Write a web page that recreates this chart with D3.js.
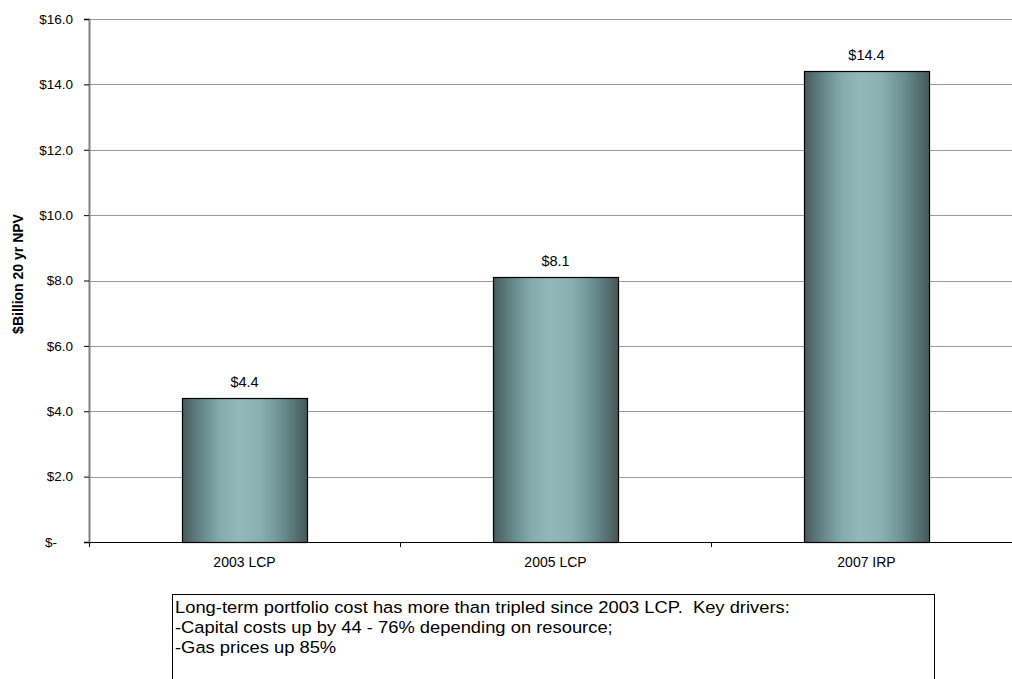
<!DOCTYPE html>
<html><head><meta charset="utf-8">
<script src="https://cdn.jsdelivr.net/npm/d3@7"></script>
<style>body{margin:0;background:#fff;overflow:hidden}svg{display:block;font-family:"Liberation Sans",Arial,sans-serif}</style>
</head><body>
<svg id="c" width="1012" height="679"></svg>
<script>
const categories = ["2003 LCP", "2005 LCP", "2007 IRP"];
const values = [4.4, 8.1, 14.4];
const yTicks = [0, 2, 4, 6, 8, 10, 12, 14, 16];
const yTitle = "$Billion 20 yr NPV";
const noteLines = [
  "Long-term portfolio cost has more than tripled since 2003 LCP.  Key drivers:",
  "-Capital costs up by 44 - 76% depending on resource;",
  "-Gas prices up 85%"
];

(function () {
const svg = d3.select("#c");
const pL = 89, pR = 1022, pT = 19, pB = 542;
const x = d3.scaleBand().domain(categories).range([pL, pR]).paddingInner(0.598).paddingOuter(0.299);
const band = d3.scaleBand().domain(categories).range([pL, pR]);
const y = d3.scaleLinear().domain([0, 16]).range([pB, pT]);

const defs = svg.append("defs");
const g = defs.append("linearGradient").attr("id", "bg").attr("x1", "0").attr("x2", "1").attr("y1", "0").attr("y2", "0");
[[0, "#465a5b"], [0.12, "#5f7f80"], [0.3, "#84acad"], [0.45, "#91b9ba"], [0.62, "#89b1b2"], [0.8, "#6a8e8f"], [1, "#455758"]]
  .forEach(([o, c]) => g.append("stop").attr("offset", o).attr("stop-color", c));

// gridlines
svg.append("g").selectAll("line").data(yTicks.filter(d => d > 0)).join("line")
  .attr("x1", pL).attr("x2", pR).attr("y1", d => Math.round(y(d)) + 0.5).attr("y2", d => Math.round(y(d)) + 0.5)
  .attr("stroke", "#9a9a9a").attr("stroke-width", 1);

// bars
svg.append("g").selectAll("rect").data(values).join("rect")
  .attr("x", (d, i) => x(categories[i]) + 0.5)
  .attr("y", d => Math.round(y(d)) + 0.5)
  .attr("width", x.bandwidth())
  .attr("height", d => pB - Math.round(y(d)))
  .attr("fill", "url(#bg)").attr("stroke", "#000").attr("stroke-width", 1.2);

// value labels
svg.append("g").selectAll("text").data(values).join("text")
  .attr("x", (d, i) => x(categories[i]) + x.bandwidth() / 2)
  .attr("y", d => y(d) - 11)
  .attr("text-anchor", "middle").attr("font-size", 14.5).attr("fill", "#000")
  .text(d => "$" + d.toFixed(1));

// y axis
const yAxis = d3.axisLeft(y).tickValues(yTicks).tickSize(5).tickPadding(11)
  .tickFormat(d => d === 0 ? "$-" : "$" + d.toFixed(1));
const ya = svg.append("g").attr("transform", `translate(${pL},0)`).call(yAxis);
ya.select(".domain").attr("stroke", "#808080").attr("stroke-width", 2);
ya.selectAll(".tick line").attr("stroke", "#000");
ya.selectAll(".tick text").attr("font-size", 13.5).attr("fill", "#000")
  .attr("font-family", "Liberation Sans, Arial, sans-serif")
  .attr("dx", d => d === 0 ? -16 : 0);

// x axis
svg.append("line").attr("x1", pL).attr("x2", pR).attr("y1", pB + 0.5).attr("y2", pB + 0.5).attr("stroke", "#000").attr("stroke-width", 1.2);
svg.append("g").selectAll("line").data(categories).join("line")
  .attr("x1", d => Math.round(band(d)) + 0.5).attr("x2", d => Math.round(band(d)) + 0.5)
  .attr("y1", pB).attr("y2", pB + 5).attr("stroke", "#000");
svg.append("g").selectAll("text").data(categories).join("text")
  .attr("x", d => band(d) + band.bandwidth() / 2).attr("y", 567)
  .attr("text-anchor", "middle").attr("font-size", 14).text(d => d);

// y title
svg.append("text").attr("transform", `translate(23,274) rotate(-90)`)
  .attr("text-anchor", "middle").attr("font-size", 14).attr("font-weight", "bold").text(yTitle);

// note box
svg.append("rect").attr("x", 172.5).attr("y", 594.5).attr("width", 762).attr("height", 100)
  .attr("fill", "#fff").attr("stroke", "#000").attr("stroke-width", 1);
const noteG = svg.append("g").attr("transform", "translate(175,0)");
const nt = noteG.selectAll("text").data(noteLines).join("text")
  .attr("x", 0).attr("y", (d, i) => 613 + i * 20)
  .attr("font-size", 17).attr("xml:space", "preserve").style("white-space", "pre").text(d => d);
const w = nt.node().getComputedTextLength();
noteG.attr("transform", `translate(175,0) scale(${615 / w},1)`);
})();
</script>
</body></html>
